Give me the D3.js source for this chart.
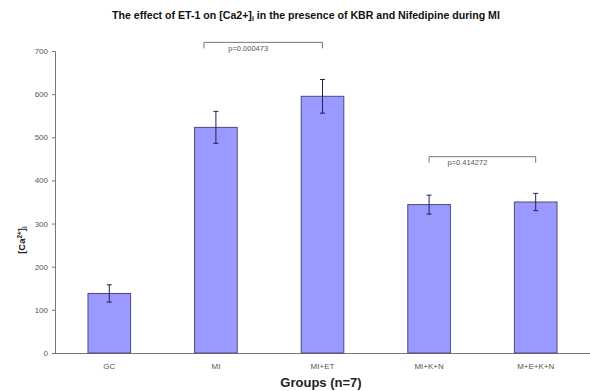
<!DOCTYPE html>
<html><head><meta charset="utf-8">
<script src="https://cdn.jsdelivr.net/npm/d3@7"></script>
<style>body{margin:0;background:#fff;}svg{display:block;font-family:"Liberation Sans",Arial,sans-serif;}</style>
</head><body><svg id="c" width="590" height="391"></svg>
<script>
const categories = ["GC","MI","MI+ET","MI+K+N","M+E+K+N"];
const means = [138, 523, 595, 344, 350];
const errors = [20, 37, 39, 22, 20];
const yTicks = [0,100,200,300,400,500,600,700];
const brackets = [
  {from:"MI", to:"MI+ET", level:720, label:"p=0.000473", fromShift:-12},
  {from:"MI+K+N", to:"M+E+K+N", level:455, label:"p=0.414272", fromShift:0}
];

const svg = d3.select("#c");
const x = d3.scaleBand().domain(categories).range([56, 589]).paddingInner(0.6).paddingOuter(0.3);
const y = d3.scaleLinear().domain([0,700]).range([353, 51]);

// title
svg.append("text").attr("x",306).attr("y",19).attr("text-anchor","middle")
  .attr("font-size",10.6).attr("font-weight","bold").attr("fill","#111")
  .html('The effect of ET-1 on [Ca2+]<tspan font-size="7" dy="2">i</tspan><tspan dy="-2"> in the presence of KBR and Nifedipine during MI</tspan>');

// y axis
const ya = svg.append("g").attr("transform","translate(55,0)")
  .call(d3.axisLeft(y).tickValues(yTicks).tickSize(3).tickPadding(4));
ya.select(".domain").attr("stroke","#777");
ya.selectAll(".tick line").attr("stroke","#777");
ya.selectAll(".tick text").attr("font-size",8).attr("fill","#555").attr("font-family","Liberation Sans, Arial");

// x axis
const xa = svg.append("g").attr("transform","translate(0,353)")
  .call(d3.axisBottom(x).tickSize(0).tickPadding(10));
xa.select(".domain").attr("stroke","#777").attr("d","M55,0.5H590");
xa.selectAll(".tick text").attr("font-size",8).attr("fill","#555").attr("font-family","Liberation Sans, Arial");

// bars
svg.append("g").selectAll("rect").data(categories).join("rect")
  .attr("x",d=>x(d)).attr("width",x.bandwidth())
  .attr("y",(d,i)=>y(means[i])).attr("height",(d,i)=>y(0)-y(means[i]))
  .attr("fill","#9999ff").attr("stroke","#4a4a80").attr("stroke-width",1);

// error bars
const eb = svg.append("g").attr("stroke","#222255").attr("stroke-width",1);
categories.forEach((c,i)=>{
  const cx = x(c)+x.bandwidth()/2;
  eb.append("line").attr("x1",cx).attr("x2",cx).attr("y1",y(means[i]+errors[i])).attr("y2",y(means[i]-errors[i]));
  eb.append("line").attr("x1",cx-2.5).attr("x2",cx+2.5).attr("y1",y(means[i]+errors[i])).attr("y2",y(means[i]+errors[i]));
  eb.append("line").attr("x1",cx-2.5).attr("x2",cx+2.5).attr("y1",y(means[i]-errors[i])).attr("y2",y(means[i]-errors[i]));
});

// brackets
brackets.forEach(b=>{
  const x1 = x(b.from)+x.bandwidth()/2+b.fromShift;
  const x2 = x(b.to)+x.bandwidth()/2;
  const yy = y(b.level);
  svg.append("path").attr("d",`M${x1},${yy+6}V${yy}H${x2}V${yy+6}`)
    .attr("fill","none").attr("stroke","#777").attr("stroke-width",1);
  svg.append("text").attr("x",(x1+x2)/2-15).attr("y",yy+8.5).attr("text-anchor","middle")
    .attr("font-size",7.5).attr("fill","#555").text(b.label);
});

// axis titles
svg.append("text").attr("x",321).attr("y",387).attr("text-anchor","middle")
  .attr("font-size",13).attr("font-weight","bold").attr("fill","#222").text("Groups (n=7)");
svg.append("text").attr("transform","translate(25,240) rotate(-90)").attr("text-anchor","middle")
  .attr("font-size",9.5).attr("font-weight","bold").attr("fill","#222")
  .html('[Ca<tspan font-size="6.5" dy="-3">2+</tspan><tspan dy="3">]</tspan><tspan font-size="6.5" dy="2">i</tspan>');
</script></body></html>
